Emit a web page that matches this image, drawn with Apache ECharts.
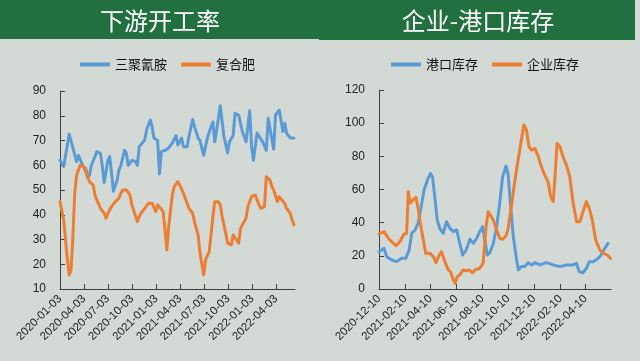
<!DOCTYPE html>
<html><head><meta charset="utf-8">
<script src="https://cdn.jsdelivr.net/npm/echarts@6/dist/echarts.min.js"></script>
<style>html,body{margin:0;padding:0;background:#d3dad6}#c{width:640px;height:361px}</style>
</head><body><div id="c"></div>
<script>
const leftTitle = '下游开工率';
const rightTitle = '企业-港口库存';
const leftTicks = ['2020-01-03','2020-04-03','2020-07-03','2020-10-03','2021-01-03','2021-04-03','2021-07-03','2021-10-03','2022-01-03','2022-04-03'];
const rightTicks = ['2020-12-10','2021-02-10','2021-04-10','2021-06-10','2021-08-10','2021-10-10','2021-12-10','2022-02-10','2022-04-10'];

const melamine = [
['2020-01-03',62],['2020-01-17',59.5],['2020-02-07',72.5],['2020-02-21',67],['2020-03-06',61.5],['2020-03-13',64],
['2020-03-27',60.5],['2020-04-10',57.5],['2020-04-17',55],['2020-04-24',56],['2020-05-01',60],['2020-05-15',63.5],
['2020-05-22',65.5],['2020-06-05',64.8],['2020-06-12',59.5],['2020-06-19',53],['2020-07-03',62],['2020-07-10',63.5],
['2020-07-17',56.7],['2020-07-24',49.5],['2020-08-07',54],['2020-08-14',58],['2020-08-21',59.7],['2020-09-04',66],
['2020-09-11',65],['2020-09-18',60],['2020-10-02',62],['2020-10-16',61.5],['2020-10-23',60],['2020-10-30',67.5],
['2020-11-06',68.2],['2020-11-20',70.2],['2020-11-27',74.2],['2020-12-11',78.3],['2020-12-18',75.6],['2020-12-25',71],
['2021-01-08',70],['2021-01-15',56.5],['2021-01-22',65.5],['2021-02-05',66],['2021-02-19',67],['2021-02-26',66.5],
['2021-03-05',69],['2021-03-12',68.2],['2021-03-19',72],['2021-03-26',68.2],['2021-04-09',71],['2021-04-16',67.5],
['2021-04-23',68],['2021-04-30',67.5],['2021-05-07',71.6],['2021-05-21',78.5],['2021-05-28',75.6],['2021-06-11',71],
['2021-06-18',70],['2021-07-02',64],['2021-07-16',71],['2021-07-30',75.6],['2021-08-06',77.5],['2021-08-13',69.5],
['2021-08-20',74],['2021-09-03',84],['2021-09-17',71.6],['2021-10-01',65],['2021-10-08',69.5],['2021-10-22',72],
['2021-10-29',81],['2021-11-12',80.3],['2021-11-26',73.6],['2021-12-10',69.5],['2021-12-24',82],['2021-12-31',67.5],
['2022-01-07',62],['2022-01-21',73],['2022-02-11',69.5],['2022-02-25',66],['2022-03-04',79],['2022-03-11',79.6],
['2022-03-25',66.5],['2022-04-01',80.3],['2022-04-15',82.3],['2022-04-29',73.6],['2022-05-06',77],['2022-05-13',73],
['2022-05-27',71],['2022-06-10',71]
];
const fertilizer = [
['2020-01-03',45.3],['2020-01-17',37.9],['2020-01-31',21.8],['2020-02-07',15.7],['2020-02-14',17.7],['2020-02-21',31.2],
['2020-02-28',48.7],['2020-03-06',56],['2020-03-20',60.1],['2020-03-27',60.8],['2020-04-10',58.8],['2020-04-17',55.4],
['2020-04-24',53.4],['2020-05-08',52],['2020-05-15',48],['2020-05-22',46],['2020-06-05',42.6],['2020-06-19',40.6],
['2020-06-26',38.6],['2020-07-03',40.6],['2020-07-17',43.3],['2020-07-31',45.3],['2020-08-14',46.7],['2020-08-21',48.7],
['2020-08-28',50],['2020-09-11',50],['2020-09-25',48],['2020-10-02',44],['2020-10-23',37.2],['2020-10-30',39.3],
['2020-11-06',40.6],['2020-11-20',42.6],['2020-12-04',44.6],['2020-12-18',44.6],['2020-12-25',44],['2021-01-01',41.3],
['2021-01-08',44],['2021-01-15',44.6],['2021-01-29',41.3],['2021-02-05',33.9],['2021-02-12',25.8],['2021-02-19',35.3],
['2021-03-05',48],['2021-03-12',51.4],['2021-03-26',53.4],['2021-04-02',52],['2021-04-16',48.7],['2021-04-23',46.7],
['2021-05-07',42.6],['2021-05-21',40.6],['2021-05-28',37.2],['2021-06-11',31.8],['2021-06-18',24.5],['2021-07-02',15.7],
['2021-07-09',21.8],['2021-07-23',25.1],['2021-08-06',39.3],['2021-08-13',45.3],['2021-08-27',45.3],['2021-09-03',44],
['2021-09-10',39.3],['2021-09-24',32.5],['2021-10-01',28.5],['2021-10-15',27.8],['2021-10-22',31.8],['2021-10-29',32.5],
['2021-11-12',28.5],['2021-11-19',34.5],['2021-11-26',35.2],['2021-12-10',38.6],['2021-12-17',43.3],['2021-12-31',47.3],
['2022-01-14',48],['2022-01-28',44],['2022-02-04',42.6],['2022-02-18',43.3],['2022-02-25',55.4],['2022-03-11',54],
['2022-03-18',51.4],['2022-03-25',50],['2022-04-08',45.3],['2022-04-15',47.3],['2022-04-22',47.3],['2022-05-06',44.6],
['2022-05-13',42.6],['2022-05-27',40.6],['2022-06-03',37.9],['2022-06-10',35.9]
];
const portStock = [
['2020-12-10',22.5],['2020-12-16',23.5],['2020-12-22',24.5],['2020-12-28',19.5],['2021-01-09',17.5],['2021-01-21',16.5],
['2021-02-01',18.5],['2021-02-11',18.5],['2021-02-19',23.5],['2021-02-25',33.6],['2021-03-05',35.6],['2021-03-12',39.6],
['2021-03-20',50.6],['2021-03-26',59.7],['2021-04-03',65.7],['2021-04-10',69.7],['2021-04-15',67.7],['2021-04-21',53.7],
['2021-04-26',41.6],['2021-05-02',36.6],['2021-05-10',33.6],['2021-05-18',40.6],['2021-05-26',36.6],['2021-06-03',34.6],
['2021-06-11',35.6],['2021-06-17',28.5],['2021-06-25',20.5],['2021-07-03',23.5],['2021-07-12',30],['2021-07-20',27.5],
['2021-07-28',30.6],['2021-08-04',34.6],['2021-08-11',37.6],['2021-08-16',29.5],['2021-08-22',20.5],['2021-08-28',21.9],
['2021-09-05',27.5],['2021-09-13',37.6],['2021-09-20',51.7],['2021-09-27',67.7],['2021-10-05',74.2],['2021-10-10',68.7],
['2021-10-16',49.6],['2021-10-22',31.6],['2021-10-30',17.5],['2021-11-03',11.5],['2021-11-10',13.5],['2021-11-18',13.5],
['2021-11-26',15.9],['2021-12-04',14.5],['2021-12-12',15.9],['2021-12-24',14.5],['2022-01-08',15.9],['2022-01-24',14.5],
['2022-02-09',13.5],['2022-02-24',14.5],['2022-03-12',14.5],['2022-03-20',15.5],['2022-03-26',10.5],['2022-04-04',9.8],
['2022-04-12',12.5],['2022-04-19',16.5],['2022-04-28',16.5],['2022-05-07',17.9],['2022-05-15',19.9],['2022-05-23',23.5],
['2022-06-02',27.5]
];
const factoryStock = [
['2020-12-10',33.2],['2020-12-22',34.6],['2021-01-01',30.6],['2021-01-13',27.5],['2021-01-19',26.1],['2021-01-28',28.5],
['2021-02-07',33.2],['2021-02-13',33.6],['2021-02-17',58.7],['2021-02-21',51.7],['2021-03-01',54],['2021-03-07',55.3],
['2021-03-12',48.6],['2021-03-20',35.6],['2021-03-30',21.5],['2021-04-09',21.5],['2021-04-17',19.5],['2021-04-23',15.9],
['2021-05-01',20.5],['2021-05-06',22.5],['2021-05-14',16.5],['2021-05-22',11.5],['2021-05-27',10.5],['2021-06-03',5.4],
['2021-06-07',3.4],['2021-06-12',7.4],['2021-06-18',8.4],['2021-06-26',11.5],['2021-07-04',11],['2021-07-10',11.5],
['2021-07-18',9.8],['2021-07-24',11.5],['2021-07-28',10.5],['2021-08-04',12.5],['2021-08-12',15.5],['2021-08-19',37.6],
['2021-08-24',46.6],['2021-08-29',44.6],['2021-09-05',41.6],['2021-09-13',35.6],['2021-09-20',30.6],['2021-09-27',30],
['2021-10-05',32],['2021-10-10',36.6],['2021-10-18',50.6],['2021-10-26',65.7],['2021-11-03',78.8],['2021-11-10',89.8],
['2021-11-16',98.9],['2021-11-22',95.9],['2021-11-28',85.8],['2021-12-04',83.8],['2021-12-12',84.8],['2021-12-20',79.8],
['2021-12-27',73.8],['2022-01-04',68.7],['2022-01-12',64.7],['2022-01-18',55.7],['2022-01-24',52.7],['2022-01-28',66.7],
['2022-02-02',87.8],['2022-02-09',85.8],['2022-02-16',79.8],['2022-02-24',74.8],['2022-03-04',67.7],['2022-03-12',51.7],
['2022-03-20',40.6],['2022-03-28',40.6],['2022-04-04',46.6],['2022-04-12',52.7],['2022-04-19',48.6],['2022-04-26',41.6],
['2022-05-04',29.5],['2022-05-14',23.5],['2022-05-23',21.5],['2022-05-31',20.5],['2022-06-08',18.5]
];

const BLUE = '#5b9bd5', ORANGE = '#ed7d31', GREEN = '#22703f', BG = '#d3dad6';
const FONT = '"Noto Sans CJK SC", "Noto Sans", sans-serif';
const toTs = s => +echarts.time.parse(s);
const fmt = v => echarts.time.format(v, '{yyyy}-{MM}-{dd}', false);
const asTs = arr => arr.map(d => [toTs(d[0]), d[1]]);

function xAxisCfg(gridIndex, min, max, ticks) {
  const vals = ticks.map(toTs);
  return {
    type: 'value', gridIndex, min: toTs(min), max: toTs(max), scale: true,
    axisLine: {show: true, lineStyle: {color: '#404040', width: 1}},
    axisTick: {show: true, inside: true, length: 5, customValues: vals, lineStyle: {color: '#404040'}},
    axisLabel: {customValues: vals, formatter: fmt, rotate: 45, fontSize: 11.5, color: '#222', margin: 8,
      hideOverlap: false, showMinLabel: true, showMaxLabel: true, fontFamily: 'Liberation Sans, sans-serif'},
    splitLine: {show: false}, minorSplitLine: {show: false}
  };
}
function yAxisCfg(gridIndex, min, max, interval) {
  return {
    type: 'value', gridIndex, min, max, interval,
    axisLine: {show: true, lineStyle: {color: '#404040', width: 1}},
    axisTick: {show: true, inside: true, length: 5, lineStyle: {color: '#404040'}},
    axisLabel: {fontSize: 12, color: '#222', margin: 14, fontFamily: 'Liberation Sans, sans-serif'},
    splitLine: {show: false}
  };
}
function lineSeries(name, data, color, xi) {
  return {
    name, type: 'line', data: asTs(data), xAxisIndex: xi, yAxisIndex: xi, showSymbol: false, symbol: 'none',
    lineStyle: {color, width: 3, join: 'round', cap: 'round'}, itemStyle: {color}
  };
}

const chart = echarts.init(document.getElementById('c'), null, {renderer: 'canvas'});
chart.setOption({
  animation: false,
  backgroundColor: BG,
  graphic: [
    {type: 'rect', shape: {x: 0, y: 0, width: 319, height: 39}, style: {fill: GREEN}, z: 0},
    {type: 'rect', shape: {x: 319, y: 0, width: 316, height: 40}, style: {fill: GREEN}, z: 0},
    {type: 'text', x: 160, y: 21, style: {text: leftTitle, fill: '#fff', font: '24px ' + FONT, textAlign: 'center', textVerticalAlign: 'middle'}, z: 1},
    {type: 'text', x: 478, y: 21, style: {text: rightTitle, fill: '#fff', font: '24px ' + FONT, textAlign: 'center', textVerticalAlign: 'middle'}, z: 1}
  ],
  legend: [
    {data: ['三聚氰胺', '复合肥'], left: 75, top: 53, icon: 'rect', itemWidth: 30, itemHeight: 4, itemGap: 14,
      textStyle: {fontSize: 13, color: '#111', fontFamily: FONT}},
    {data: ['港口库存', '企业库存'], left: 386, top: 53, icon: 'rect', itemWidth: 30, itemHeight: 4, itemGap: 14,
      textStyle: {fontSize: 13, color: '#111', fontFamily: FONT}}
  ],
  grid: [
    {left: 60, right: 345, top: 91, bottom: 72},
    {left: 379, right: 29, top: 90, bottom: 72}
  ],
  xAxis: [
    xAxisCfg(0, '2020-01-03', '2022-06-14', leftTicks),
    xAxisCfg(1, '2020-12-10', '2022-06-09', rightTicks)
  ],
  yAxis: [yAxisCfg(0, 10, 90, 10), yAxisCfg(1, 0, 120, 20)],
  series: [
    lineSeries('三聚氰胺', melamine, BLUE, 0),
    lineSeries('复合肥', fertilizer, ORANGE, 0),
    lineSeries('港口库存', portStock, BLUE, 1),
    lineSeries('企业库存', factoryStock, ORANGE, 1)
  ]
});
</script></body></html>
